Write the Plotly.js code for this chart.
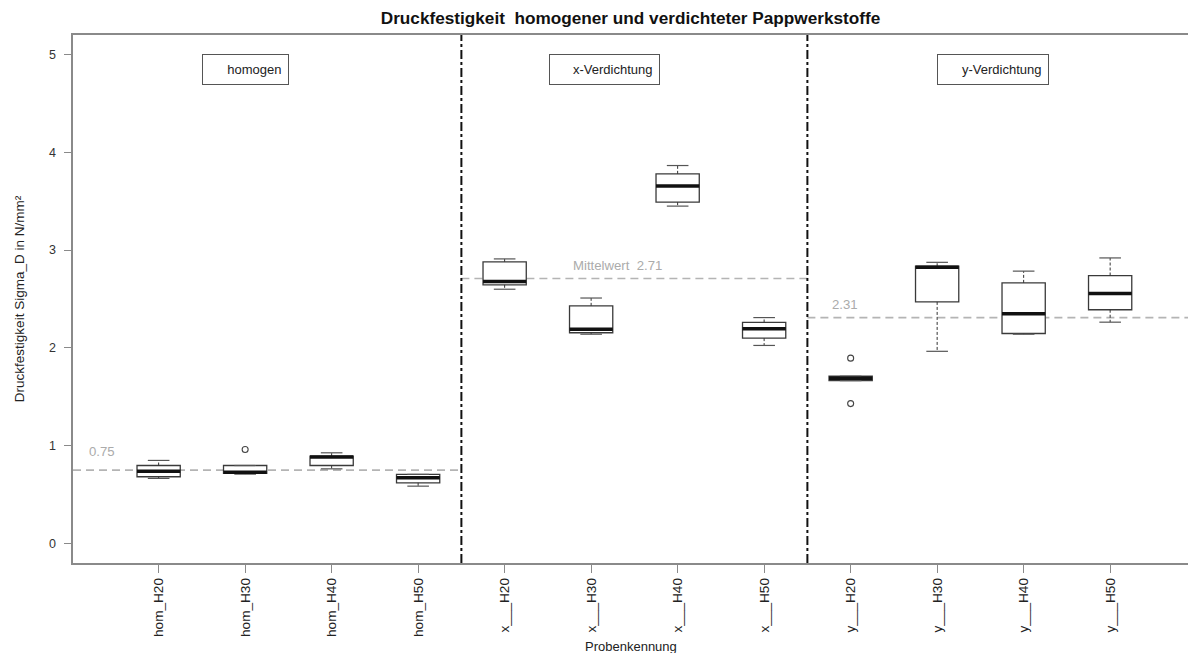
<!DOCTYPE html>
<html>
<head>
<meta charset="utf-8">
<script src="https://cdn.plot.ly/plotly-3.0.1.min.js"></script>
<style>html,body{margin:0;padding:0;background:#fff;}#chart{width:1188px;height:653px;}</style>
</head>
<body>
<div id="chart"></div>
<script>
// ---- data ----
const categories = ['hom_H20','hom_H30','hom_H40','hom_H50','x___H20','x___H30','x___H40','x___H50','y___H20','y___H30','y___H40','y___H50'];
const minVals    = [0.665, 0.709, 0.763, 0.586, 2.60, 2.14, 3.45, 2.025, 1.665, 1.965, 2.14, 2.263];
const q1Vals     = [0.682, 0.718, 0.797, 0.620, 2.645, 2.155, 3.49, 2.10, 1.665, 2.47, 2.147, 2.39];
const medianVals = [0.739, 0.728, 0.883, 0.671, 2.68, 2.19, 3.655, 2.195, 1.69, 2.825, 2.35, 2.556];
const q3Vals     = [0.797, 0.797, 0.893, 0.706, 2.88, 2.43, 3.78, 2.26, 1.71, 2.835, 2.665, 2.74];
const maxVals    = [0.849, 0.797, 0.927, 0.706, 2.91, 2.51, 3.865, 2.31, 1.71, 2.875, 2.785, 2.92];
const outlierCats = ['hom_H30','y___H20','y___H20'];
const outlierVals = [0.961, 1.895, 1.43];
const groupNames  = ['homogen','x-Verdichtung','y-Verdichtung'];
const groupSizes  = [4, 4, 4];
const groupMeans  = [0.75, 2.71, 2.31];
const meanLabels  = ['0.75', 'Mittelwert\u00a0\u00a02.71', '2.31'];
const yTicks      = [0, 1, 2, 3, 4, 5];
const xTitle = 'Probenkennung';
const yTitle = 'Druckfestigkeit Sigma_D in N/mm²';
const mainTitle = 'Druckfestigkeit \u00a0homogener und verdichteter Pappwerkstoffe';

// ---- layout helpers ----
const FONT = 'Liberation Sans, Arial, sans-serif';
const xRange = [0.01, 12.9];
const pos = categories.map((c, i) => i + 1);
const posOf = c => categories.indexOf(c) + 1;
const half = 0.25, staple = 0.125;

const traces = [];
// boxes
traces.push({
  type: 'box', x: pos, q1: q1Vals, median: medianVals, q3: q3Vals,
  lowerfence: q1Vals, upperfence: q3Vals, width: 0.5, whiskerwidth: 0,
  fillcolor: '#ffffff', line: {color: '#3a3a3a', width: 1.3},
  boxpoints: false, hoverinfo: 'skip', showlegend: false
});
// whiskers (dashed)
const wx = [], wy = [];
pos.forEach((p, i) => {
  wx.push(p, p, null, p, p, null);
  wy.push(q3Vals[i], maxVals[i], null, q1Vals[i], minVals[i], null);
});
traces.push({type: 'scatter', mode: 'lines', x: wx, y: wy, line: {color: '#333', width: 1, dash: '3px,2px'}, hoverinfo: 'skip', showlegend: false});
// staples
const sx = [], sy = [];
pos.forEach((p, i) => {
  sx.push(p - staple, p + staple, null, p - staple, p + staple, null);
  sy.push(maxVals[i], maxVals[i], null, minVals[i], minVals[i], null);
});
traces.push({type: 'scatter', mode: 'lines', x: sx, y: sy, line: {color: '#555', width: 1.2}, hoverinfo: 'skip', showlegend: false});
// medians (thick)
const mx = [], my = [];
pos.forEach((p, i) => { mx.push(p - half, p + half, null); my.push(medianVals[i], medianVals[i], null); });
traces.push({type: 'scatter', mode: 'lines', x: mx, y: my, line: {color: '#111', width: 3.5}, hoverinfo: 'skip', showlegend: false});
// outliers
traces.push({type: 'scatter', mode: 'markers', x: outlierCats.map(posOf), y: outlierVals,
  marker: {symbol: 'circle-open', size: 6, color: '#444', line: {width: 1.1}}, hoverinfo: 'skip', showlegend: false});

// group boundaries, mean lines, labels
const shapes = [], annotations = [];
let start = 0;
const bounds = [];
groupSizes.forEach(n => { bounds.push([start + 0.5, start + n + 0.5]); start += n; });
bounds.forEach((b, g) => {
  if (g < bounds.length - 1) {
    shapes.push({type: 'line', xref: 'x', yref: 'paper', x0: b[1], x1: b[1], y0: 0, y1: 1,
      line: {color: '#111', width: 2, dash: 'dashdot'}});
  }
  const x0 = g === 0 ? xRange[0] : b[0];
  const x1 = g === bounds.length - 1 ? xRange[1] : b[1];
  shapes.push({type: 'line', xref: 'x', yref: 'y', x0: x0, x1: x1, y0: groupMeans[g], y1: groupMeans[g],
    line: {color: '#b4b4b4', width: 1.6, dash: '8px,5px'}, layer: 'below'});
});
const meanLabelX = [0.17, 5.77, 8.76];
const meanLabelShift = [0.195, 0.13, 0.13];
groupMeans.forEach((m, g) => {
  annotations.push({xref: 'x', yref: 'y', x: meanLabelX[g], y: m + meanLabelShift[g], text: meanLabels[g],
    showarrow: false, xanchor: 'left', yanchor: 'middle', font: {family: FONT, size: 13.2, color: '#ababab'}});
});
const boxCenters = [2.0, 6.15, 10.65];
const boxWidths = [88, 112, 113];
groupNames.forEach((name, g) => {
  annotations.push({xref: 'x', yref: 'paper', x: boxCenters[g], y: 0.934, text: name, showarrow: false,
    xanchor: 'center', yanchor: 'middle', align: 'right', width: boxWidths[g] - 16, height: 16,
    borderpad: 6.5, bordercolor: '#555', borderwidth: 1, bgcolor: '#fff',
    font: {family: FONT, size: 13, color: '#222'}});
});
// x axis title placed below the rotated tick labels
annotations.push({xref: 'paper', yref: 'paper', x: 0.5, y: -0.158, text: xTitle, showarrow: false,
  xanchor: 'center', yanchor: 'middle', font: {family: FONT, size: 13, color: '#222'}});

const layout = {
  width: 1188, height: 653,
  margin: {l: 73, r: 0, t: 35, b: 90},
  paper_bgcolor: '#fff', plot_bgcolor: '#fff',
  font: {family: FONT, color: '#222'},
  title: {text: '<b>' + mainTitle + '</b>',
    font: {family: FONT, size: 17.2, color: '#111'}, x: 0.5, xref: 'paper', xanchor: 'center',
    y: 1 - 18 / 653, yref: 'container', yanchor: 'middle'},
  xaxis: {range: xRange, tickvals: pos, ticktext: categories, tickangle: -90,
    showline: true, linecolor: '#8a8a8a', linewidth: 1.6, mirror: true,
    ticks: 'outside', ticklen: 8, tickcolor: '#8a8a8a', tickwidth: 1.2,
    showgrid: false, zeroline: false, automargin: false, tickfont: {family: FONT, size: 13.6, color: '#222'}},
  yaxis: {range: [-0.2, 5.2], tickvals: yTicks, ticktext: yTicks.map(String),
    showline: true, linecolor: '#8a8a8a', linewidth: 1.6, mirror: false,
    ticks: 'outside', ticklen: 7, tickcolor: '#8a8a8a', tickwidth: 1.2,
    showgrid: false, zeroline: false, ticklabelstandoff: 6, automargin: false,
    tickfont: {family: FONT, size: 12.5, color: '#333'},
    title: {text: yTitle, font: {family: FONT, size: 13.5, color: '#222'}, standoff: 21}},
  shapes: shapes, annotations: annotations, showlegend: false
};

Plotly.newPlot('chart', traces, layout, {staticPlot: true, displayModeBar: false});
</script>
</body>
</html>
